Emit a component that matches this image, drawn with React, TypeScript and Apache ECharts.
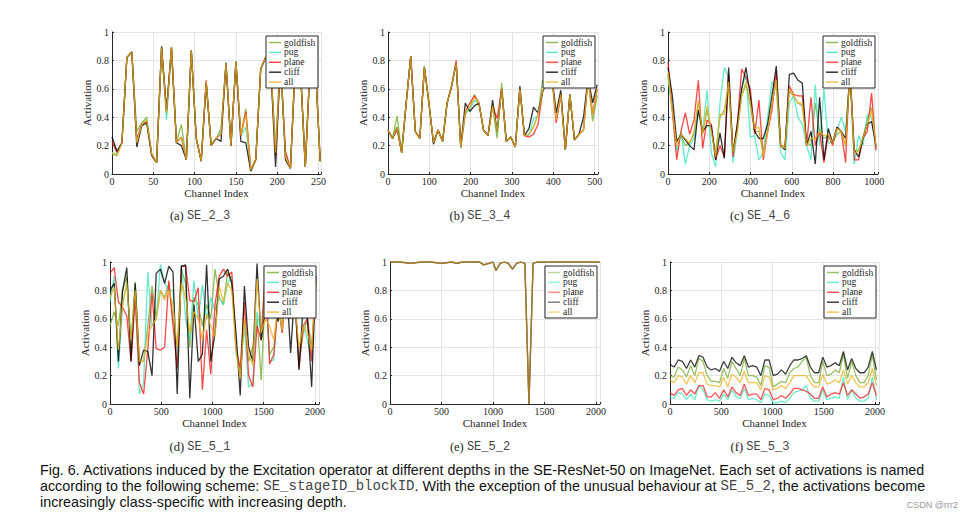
import React, { useEffect, useRef } from 'react';
import * as echarts from 'echarts';

const classNames = ['goldfish', 'pug', 'plane', 'cliff', 'all'];
const classColors = ['#77AC30', '#3FE6BE', '#FF1A1A', '#000000', '#EDB120'];

const yTicks = [0, 0.2, 0.4, 0.6, 0.8, 1];

// channel index grids (sampling of the plotted channels)
const grid = (n: number, step: number) => Array.from({ length: n }, (_, i) => i * step);

// (a) SE_2_3
const chA = grid(43, 6);
const goldfishA = [0.14,0.13,0.22,0.82,0.86,0.3,0.36,0.4,0.14,0.08,0.89,0.42,0.89,0.22,0.35,0.1,0.87,0.25,0.09,0.65,0.2,0.25,0.32,0.78,0.2,0.79,0.27,0.46,0.03,0.1,0.74,0.82,0.78,0.2,0.8,0.12,0.04,0.8,0.75,0.05,0.8,0.8,0.09];
const pugA = [0.15,0.14,0.22,0.82,0.86,0.25,0.35,0.38,0.14,0.08,0.89,0.38,0.89,0.22,0.26,0.1,0.87,0.25,0.09,0.65,0.2,0.25,0.3,0.79,0.2,0.79,0.27,0.33,0.03,0.1,0.74,0.82,0.78,0.15,0.8,0.15,0.04,0.8,0.75,0.05,0.8,0.8,0.09];
const planeA = [0.23,0.15,0.22,0.82,0.86,0.24,0.35,0.37,0.14,0.08,0.89,0.44,0.89,0.22,0.26,0.1,0.87,0.25,0.09,0.66,0.2,0.25,0.28,0.78,0.2,0.79,0.27,0.44,0.03,0.1,0.74,0.82,0.78,0.13,0.8,0.16,0.04,0.8,0.75,0.05,0.8,0.8,0.09];
const cliffA = [0.26,0.16,0.22,0.82,0.86,0.19,0.34,0.36,0.13,0.08,0.9,0.45,0.89,0.22,0.2,0.1,0.87,0.25,0.09,0.64,0.2,0.25,0.23,0.78,0.2,0.79,0.23,0.22,0.02,0.1,0.74,0.82,0.78,0.05,0.8,0.1,0.04,0.8,0.75,0.05,0.8,0.8,0.09];
const allA = [0.15,0.13,0.22,0.82,0.86,0.22,0.35,0.38,0.14,0.08,0.89,0.43,0.89,0.22,0.26,0.1,0.87,0.25,0.09,0.65,0.2,0.25,0.28,0.78,0.2,0.79,0.27,0.42,0.03,0.1,0.74,0.82,0.78,0.15,0.8,0.12,0.04,0.8,0.75,0.05,0.8,0.8,0.09];

// (b) SE_3_4
const chB = grid(47, 11);
const goldfishB = [0.31,0.25,0.41,0.15,0.5,0.83,0.3,0.25,0.76,0.5,0.22,0.31,0.23,0.5,0.62,0.78,0.18,0.42,0.47,0.56,0.5,0.31,0.27,0.48,0.25,0.64,0.23,0.26,0.19,0.6,0.27,0.28,0.33,0.42,0.66,0.66,0.7,0.38,0.56,0.17,0.56,0.24,0.28,0.31,0.68,0.37,0.55];
const pugB = [0.31,0.25,0.33,0.15,0.5,0.83,0.3,0.25,0.75,0.5,0.22,0.31,0.23,0.5,0.62,0.78,0.19,0.44,0.45,0.52,0.5,0.31,0.27,0.48,0.3,0.6,0.23,0.26,0.19,0.6,0.27,0.27,0.39,0.41,0.58,0.66,0.7,0.38,0.56,0.17,0.56,0.24,0.28,0.31,0.68,0.42,0.6];
const planeB = [0.31,0.25,0.31,0.15,0.5,0.83,0.3,0.25,0.75,0.5,0.22,0.31,0.23,0.5,0.62,0.8,0.19,0.44,0.5,0.55,0.5,0.31,0.27,0.48,0.39,0.6,0.23,0.26,0.19,0.6,0.27,0.26,0.28,0.35,0.58,0.66,0.7,0.36,0.56,0.17,0.56,0.24,0.28,0.31,0.68,0.42,0.6];
const cliffB = [0.31,0.25,0.33,0.15,0.5,0.83,0.3,0.25,0.75,0.5,0.21,0.31,0.23,0.5,0.62,0.78,0.19,0.5,0.44,0.48,0.5,0.31,0.27,0.52,0.3,0.6,0.23,0.26,0.19,0.62,0.27,0.32,0.47,0.43,0.58,0.66,0.7,0.43,0.59,0.17,0.56,0.24,0.28,0.4,0.68,0.5,0.63];
const allB = [0.31,0.25,0.33,0.15,0.5,0.83,0.3,0.25,0.75,0.5,0.22,0.31,0.23,0.5,0.62,0.78,0.19,0.44,0.47,0.54,0.5,0.31,0.27,0.48,0.3,0.6,0.23,0.26,0.19,0.6,0.27,0.28,0.33,0.42,0.58,0.66,0.7,0.38,0.56,0.17,0.56,0.24,0.28,0.31,0.68,0.42,0.6];

// (c) SE_4_6
const chC = grid(49, 21);
const goldfishC = [0.7,0.45,0.22,0.27,0.2,0.22,0.28,0.5,0.28,0.45,0.3,0.15,0.4,0.45,0.62,0.15,0.3,0.55,0.63,0.48,0.3,0.3,0.15,0.3,0.5,0.65,0.2,0.2,0.58,0.55,0.5,0.48,0.22,0.2,0.5,0.3,0.25,0.27,0.22,0.28,0.3,0.2,0.72,0.15,0.17,0.25,0.38,0.47,0.18];
const pugC = [0.68,0.45,0.16,0.3,0.07,0.2,0.25,0.45,0.3,0.59,0.15,0.05,0.5,0.75,0.68,0.08,0.3,0.6,0.7,0.26,0.27,0.1,0.15,0.4,0.65,0.6,0.15,0.1,0.5,0.55,0.4,0.35,0.2,0.1,0.63,0.2,0.6,0.22,0.22,0.3,0.4,0.3,0.7,0.07,0.27,0.2,0.42,0.4,0.16];
const planeC = [0.79,0.45,0.1,0.3,0.43,0.28,0.38,0.66,0.18,0.38,0.35,0.1,0.2,0.12,0.7,0.12,0.35,0.74,0.68,0.6,0.28,0.52,0.1,0.3,0.45,0.72,0.2,0.18,0.62,0.56,0.55,0.55,0.2,0.54,0.2,0.3,0.08,0.28,0.2,0.33,0.3,0.08,0.78,0.1,0.1,0.25,0.3,0.57,0.17];
const cliffC = [0.75,0.55,0.23,0.28,0.24,0.2,0.17,0.45,0.3,0.34,0.34,0.1,0.29,0.11,0.75,0.15,0.35,0.6,0.75,0.55,0.3,0.25,0.25,0.35,0.55,0.76,0.2,0.17,0.7,0.71,0.66,0.64,0.2,0.3,0.07,0.54,0.1,0.32,0.22,0.33,0.3,0.25,0.72,0.17,0.12,0.25,0.35,0.37,0.2];
const allC = [0.72,0.45,0.2,0.28,0.25,0.22,0.3,0.52,0.28,0.48,0.3,0.12,0.42,0.42,0.65,0.15,0.3,0.55,0.65,0.5,0.32,0.33,0.12,0.3,0.5,0.66,0.2,0.18,0.6,0.55,0.5,0.5,0.2,0.25,0.25,0.3,0.27,0.28,0.22,0.32,0.3,0.2,0.72,0.15,0.16,0.25,0.35,0.45,0.2];

// (d) SE_5_1
const chD = grid(50, 41);
const goldfishD = [0.55,0.65,0.55,0.8,0.9,0.4,0.86,0.3,0.3,0.55,0.83,0.6,0.8,0.75,0.85,0.6,0.4,0.95,0.85,0.4,0.75,0.7,0.55,0.7,0.6,0.95,0.75,0.7,0.93,0.85,0.4,0.2,0.6,0.3,0.4,0.6,0.17,0.8,0.35,0.4,0.7,0.55,0.9,0.6,0.7,0.3,0.5,0.6,0.4,0.85];
const pugD = [0.72,0.9,0.25,0.7,0.85,0.45,0.82,0.07,0.15,0.93,0.55,0.6,0.98,0.85,0.8,0.8,0.25,0.98,0.6,0.45,0.87,0.6,0.84,0.6,0.75,0.66,0.75,0.7,0.85,0.9,0.35,0.25,0.55,0.12,0.15,0.65,0.5,0.9,0.3,0.31,0.75,0.5,0.85,0.62,0.7,0.3,0.55,0.45,0.3,0.9];
const planeD = [0.92,0.96,0.72,0.68,0.62,0.3,0.75,0.15,0.07,0.38,0.78,0.39,0.38,0.4,0.87,0.55,0.25,0.97,0.97,0.73,0.72,0.82,0.1,0.52,0.21,0.7,0.9,0.95,0.9,0.93,0.4,0.25,0.72,0.2,0.12,0.55,0.45,0.95,0.28,0.35,0.7,0.5,0.85,0.6,0.75,0.25,0.55,0.6,0.3,0.9];
const cliffD = [0.8,0.85,0.3,0.8,0.96,0.3,0.85,0.27,0.38,0.37,0.2,0.92,0.95,0.85,0.97,0.93,0.07,0.97,0.98,0.04,0.7,0.3,0.35,0.98,0.3,0.5,0.88,0.9,0.95,0.85,0.5,0.06,0.83,0.4,0.3,0.99,0.45,0.66,0.66,0.66,0.58,0.8,0.85,0.36,0.8,0.24,0.7,0.6,0.12,0.9];
const allD = [0.75,0.82,0.38,0.7,0.85,0.45,0.8,0.3,0.3,0.5,0.55,0.6,0.8,0.73,0.8,0.7,0.4,0.85,0.75,0.5,0.65,0.6,0.45,0.63,0.55,0.47,0.83,0.72,0.85,0.8,0.38,0.18,0.6,0.35,0.27,0.88,0.5,0.6,0.55,0.45,0.7,0.52,0.85,0.6,0.7,0.4,0.55,0.5,0.38,0.88];

// (e) SE_5_2 (all classes coincide)
const chE = [0,100,200,300,400,500,600,650,700,800,870,910,960,1000,1030,1070,1110,1150,1190,1230,1270,1310,1350,1390,1430,1500,1600,1700,1800,1900,2040];
const goldfishE = [1,1,0.99,1,1,0.99,1,0.99,1,1,1,0.98,0.99,1,0.94,0.99,1,0.99,0.95,0.99,1,0.99,0,0.99,1,1,1,1,1,1,1];
const pugE = goldfishE;
const planeE = goldfishE;
const cliffE = goldfishE;
const allE = goldfishE;

// (f) SE_5_3
const chF = grid(51, 40.3);
const goldfishF = [0.2,0.19,0.26,0.24,0.19,0.27,0.2,0.32,0.3,0.2,0.16,0.16,0.15,0.25,0.18,0.3,0.25,0.2,0.32,0.2,0.2,0.19,0.13,0.27,0.26,0.12,0.14,0.16,0.15,0.22,0.25,0.26,0.3,0.33,0.2,0.15,0.15,0.3,0.2,0.21,0.24,0.22,0.35,0.18,0.3,0.2,0.15,0.15,0.2,0.35,0.17];
const pugF = [0.05,0.04,0.08,0.07,0.03,0.07,0.03,0.13,0.1,0.03,0.02,0.03,0.02,0.07,0.03,0.1,0.05,0.04,0.11,0.03,0.04,0.03,0.01,0.07,0.06,0.01,0.01,0.02,0.01,0.04,0.08,0.09,0.1,0.13,0.04,0.02,0.02,0.1,0.03,0.04,0.05,0.04,0.19,0.03,0.1,0.04,0.02,0.02,0.04,0.19,0.03];
const planeF = [0.08,0.06,0.1,0.11,0.06,0.1,0.07,0.13,0.13,0.05,0.05,0.08,0.04,0.1,0.05,0.12,0.08,0.06,0.14,0.06,0.07,0.07,0.03,0.11,0.1,0.03,0.04,0.06,0.04,0.07,0.11,0.11,0.1,0.09,0.07,0.04,0.04,0.12,0.05,0.07,0.08,0.07,0.15,0.06,0.1,0.07,0.04,0.05,0.07,0.15,0.06];
const cliffF = [0.28,0.26,0.31,0.3,0.25,0.31,0.26,0.34,0.33,0.26,0.24,0.25,0.23,0.3,0.25,0.33,0.29,0.27,0.34,0.26,0.27,0.26,0.2,0.31,0.31,0.2,0.21,0.24,0.21,0.27,0.31,0.31,0.32,0.34,0.26,0.22,0.22,0.33,0.26,0.27,0.29,0.27,0.37,0.24,0.32,0.25,0.22,0.22,0.26,0.37,0.24];
const allF = [0.17,0.15,0.2,0.19,0.14,0.2,0.15,0.22,0.22,0.14,0.13,0.13,0.12,0.19,0.12,0.21,0.19,0.15,0.23,0.15,0.15,0.15,0.1,0.2,0.19,0.1,0.11,0.13,0.11,0.15,0.2,0.2,0.2,0.2,0.15,0.12,0.12,0.21,0.14,0.15,0.17,0.15,0.24,0.14,0.2,0.15,0.12,0.12,0.15,0.25,0.13];

const subLabels = ['(a)', '(b)', '(c)', '(d)', '(e)', '(f)'];
const blockIds = ['SE_2_3', 'SE_3_4', 'SE_4_6', 'SE_5_1', 'SE_5_2', 'SE_5_3'];

const panelData = [
  { ch: chA, vals: [goldfishA, pugA, planeA, cliffA, allA] },
  { ch: chB, vals: [goldfishB, pugB, planeB, cliffB, allB] },
  { ch: chC, vals: [goldfishC, pugC, planeC, cliffC, allC] },
  { ch: chD, vals: [goldfishD, pugD, planeD, cliffD, allD] },
  { ch: chE, vals: [goldfishE, pugE, planeE, cliffE, allE] },
  { ch: chF, vals: [goldfishF, pugF, planeF, cliffF, allF] },
];

// layout (pixels)
const layout = [
  { left: 112, top: 32, width: 209, xmax: 253, interval: 50, op: 0.8, cx: 200 },
  { left: 388, top: 32, width: 210, xmax: 508, interval: 100, op: 0.8, cx: 480 },
  { left: 668, top: 32, width: 210, xmax: 1018, interval: 200, op: 0.8, cx: 760 },
  { left: 110, top: 262, width: 209, xmax: 2040, interval: 500, op: 0.8, cx: 200 },
  { left: 390, top: 262, width: 210, xmax: 2040, interval: 500, op: 0.5, cx: 480 },
  { left: 670, top: 262, width: 209, xmax: 2040, interval: 500, op: 0.75, cx: 760 },
];
const PH = 142;

const SERIF = '"Liberation Serif", "DejaVu Serif", serif';
const MONO = '"Liberation Mono", "DejaVu Sans Mono", monospace';
const SANS = '"Liberation Sans", Arial, sans-serif';
const AX = '#262626';

export default function App() {
  const ref = useRef<HTMLDivElement>(null);
  useEffect(() => {
    document.body.style.margin = '0';
    if (!ref.current) return;
    const chart = echarts.init(ref.current, undefined, { renderer: 'svg' });

    const grids: any[] = [];
    const xAxes: any[] = [];
    const yAxes: any[] = [];
    const series: any[] = [];
    const graphics: any[] = [];

    layout.forEach((L, p) => {
      grids.push({ left: L.left, top: L.top, width: L.width, height: PH, containLabel: false });
      xAxes.push({
        type: 'value', gridIndex: p, min: 0, max: L.xmax, interval: L.interval,
        name: 'Channel Index', nameLocation: 'middle', nameGap: 13,
        nameTextStyle: { fontFamily: SERIF, fontSize: 11, color: AX },
        axisLine: { show: true, lineStyle: { color: AX, width: 1 } },
        axisTick: { show: true, inside: true, length: 2, lineStyle: { color: AX } },
        axisLabel: {
          fontFamily: SERIF, fontSize: 10, color: AX, margin: 2,
          formatter: (v: number) => (Math.abs(v % L.interval) < 1e-6 ? String(v) : ''),
        },
        splitLine: { show: true, lineStyle: { color: '#e3e3e3', width: 1 } },
      });
      yAxes.push({
        type: 'value', gridIndex: p, min: 0, max: 1, interval: 0.2,
        name: 'Activation', nameLocation: 'middle', nameGap: 17,
        nameTextStyle: { fontFamily: SERIF, fontSize: 11, color: AX },
        axisLine: { show: true, lineStyle: { color: AX, width: 1 } },
        axisTick: { show: true, inside: true, length: 2, lineStyle: { color: AX } },
        axisLabel: { fontFamily: SERIF, fontSize: 10, color: AX, margin: 3,
          formatter: (v: number) => (yTicks.some(t => Math.abs(t - v) < 1e-6) ? String(Math.round(v * 10) / 10) : '') },
        splitLine: { show: true, lineStyle: { color: '#e3e3e3', width: 1 } },
      });
      const D = panelData[p];
      classNames.forEach((name, c) => {
        series.push({
          type: 'line', name, xAxisIndex: p, yAxisIndex: p,
          data: D.ch.map((x, i) => [x, D.vals[c][i]]),
          showSymbol: false, symbol: 'none', silent: true, clip: true,
          lineStyle: { color: classColors[c], width: 1.3, opacity: L.op },
          z: 2 + c,
        });
      });

      // legend box
      const right = L.left + L.width - 3;
      const lw = 52, lh = 52;
      const lx = right - lw, ly = L.top + 4;
      graphics.push({ type: 'rect', z: 100, zlevel: 0, shape: { x: lx, y: ly, width: lw, height: lh },
        style: { fill: '#ffffff', stroke: AX, lineWidth: 1 } });
      classNames.forEach((name, c) => {
        const yy = ly + 6.5 + c * 9.9;
        graphics.push({ type: 'line', z: 101, shape: { x1: lx + 3, y1: yy, x2: lx + 15, y2: yy },
          style: { stroke: classColors[c], lineWidth: 1.5, opacity: L.op } });
        graphics.push({ type: 'text', z: 101, x: lx + 18, y: yy,
          style: { text: name, fontFamily: SERIF, fontSize: 9.5, fill: AX, verticalAlign: 'middle', align: 'left' } });
      });

      // sub caption
      graphics.push({
        type: 'text', x: L.cx, y: p < 3 ? 216 : 447, z: 100,
        style: {
          text: subLabels[p] + ' {m|' + blockIds[p] + '}',
          fontFamily: SERIF, fontSize: 12.5, fill: '#222', align: 'center', verticalAlign: 'middle',
          rich: { m: { fontFamily: MONO, fontSize: 12, fill: '#444' } },
        },
      });
    });

    const capStyle = { fontFamily: SANS, fontSize: 14.3, fill: '#111', align: 'left', verticalAlign: 'middle' };
    const mono = { m: { fontFamily: MONO, fontSize: 14, fill: '#444' } };
    graphics.push({ type: 'text', z: 100, x: 40, y: 470, style: { ...capStyle,
      text: 'Fig. 6. Activations induced by the Excitation operator at different depths in the SE-ResNet-50 on ImageNet. Each set of activations is named' } });
    graphics.push({ type: 'text', z: 100, x: 40, y: 486, style: { ...capStyle, rich: mono,
      text: 'according to the following scheme: {m|SE_stageID_blockID}. With the exception of the unusual behaviour at {m|SE_5_2}, the activations become' } });
    graphics.push({ type: 'text', z: 100, x: 40, y: 502, style: { ...capStyle,
      text: 'increasingly class-specific with increasing depth.' } });
    graphics.push({ type: 'text', z: 100, x: 958, y: 505, style: { text: 'CSDN @rrr2', fontFamily: SANS, fontSize: 9, fill: '#999', align: 'right', verticalAlign: 'middle' } });

    chart.setOption({
      animation: false,
      backgroundColor: '#ffffff',
      grid: grids,
      xAxis: xAxes,
      yAxis: yAxes,
      series,
      graphic: graphics,
    });
    return () => chart.dispose();
  }, []);
  return <div ref={ref} style={{ width: 973, height: 518 }} />;
}
